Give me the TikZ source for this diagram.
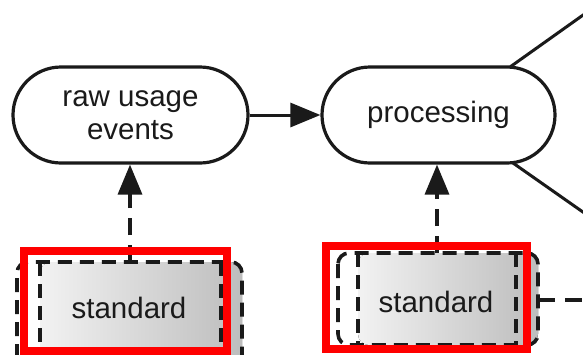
\documentclass[tikz,border=0pt]{standalone}
\usepackage{fontspec}
\setmainfont{Liberation Sans}
\usetikzlibrary{arrows.meta}
\definecolor{ink}{HTML}{1A1A1A}
\definecolor{fadelight}{HTML}{F2F2F2}
\definecolor{fadedark}{HTML}{BDBDBD}
\tikzset{
  x=1pt, y=-1pt,
  stadium/.style={draw=ink, line width=3.2pt, rounded corners=48pt,
    minimum width=233pt, minimum height=96pt, inner sep=0pt,
    font=\fontsize{29.5}{33}\selectfont, text=ink, align=center},
  stdlabel/.style={inner sep=0pt, font=\fontsize{29.5}{33}\selectfont, text=ink},
  dashframe/.style={draw=ink, line width=3.6pt, dash pattern=on 14pt off 8pt},
  dashlink/.style={draw=ink, line width=3.4pt, dash pattern=on 17pt off 10pt},
  solidlink/.style={draw=ink, line width=3pt},
  bigtip/.style={-{Triangle[length=30pt,width=24pt]}},
  fadefill/.style={left color=fadelight, right color=fadedark, draw=none},
  highlight/.style={draw=red, line width=8pt}
}
\begin{document}
\begin{tikzpicture}
\useasboundingbox (0,0) rectangle (583,354);
\clip (0,0) rectangle (583,354);
\fill[white] (0,0) rectangle (583,354);

% process nodes
\node[stadium, minimum width=235pt] (raw) at (130.5,115) {raw usage\\events};
\node[stadium] (proc) at (438.5,115) {processing};

% left "standard" store
\fill[fadefill, rounded corners=11pt] (40,262) -- (242,262) -- (242,380) -- (40,380) -- cycle;
\draw[dashframe, rounded corners=11pt] (17,380) -- (17,262) -- (242,262) -- (242,380);
\draw[dashframe] (40,262) -- (40,380);
\draw[dashframe] (221,262) -- (221,380);
\node[stdlabel] (std1) at (129,308) {standard};
\coordinate (std1top) at (130,262);

% right "standard" store
\fill[fadefill, rounded corners=11pt] (358,253) -- (538,253) -- (538,345) -- (358,345) -- cycle;
\draw[dashframe, rounded corners=11pt] (338,253) rectangle (538,345);
\draw[dashframe] (358,253) -- (358,345);
\draw[dashframe] (516,253) -- (516,345);
\node[stdlabel] (std2) at (436,302) {standard};
\coordinate (std2top) at (437,253);
\coordinate (std2right) at (538,300);

% connectors
\draw[solidlink, bigtip] (raw.east) -- (proc.west);
\draw[dashlink, bigtip] (std1top) -- (raw.south -| std1top);
\draw[dashlink, bigtip] (std2top) -- (proc.south -| std2top);
\coordinate (upout) at (600,3);
\coordinate (downout) at (600,224);
\coordinate (sideout) at (600,300);
\coordinate (upstart) at (510,67);
\coordinate (downstart) at (513,163);
\draw[solidlink] (upstart) -- (upout);
\draw[solidlink] (downstart) -- (downout);
\draw[dashlink] (std2right) -- (sideout);

% highlight frames
\draw[highlight] (24,251) rectangle (227,351);
\draw[highlight] (326,246) rectangle (527,349);
\end{tikzpicture}
\end{document}
